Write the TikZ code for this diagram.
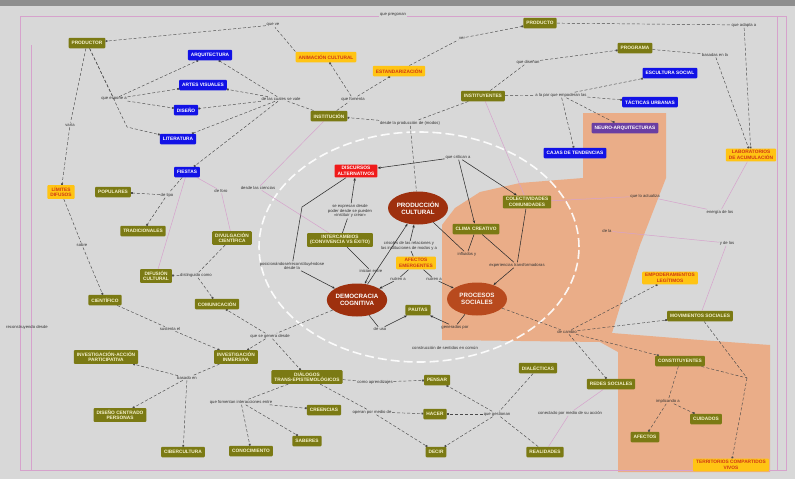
\documentclass[tikz,border=0pt]{standalone}
\usepackage{fontspec}
\setmainfont{Liberation Sans}
\usetikzlibrary{arrows.meta,shapes.geometric}
\definecolor{bgc}{HTML}{D8D8D8}
\definecolor{topbar}{HTML}{8E8E8E}
\definecolor{olv}{HTML}{7B7A14}
\definecolor{olvtx}{HTML}{F6F2CC}
\definecolor{blu}{HTML}{1212E6}
\definecolor{amb}{HTML}{FFC414}
\definecolor{ambtx}{HTML}{D03A14}
\definecolor{redb}{HTML}{F01A1A}
\definecolor{brn}{HTML}{9E300E}
\definecolor{brn2}{HTML}{B84A1E}
\definecolor{pch}{HTML}{EAAD88}
\definecolor{pnk}{HTML}{D6A2CC}
\definecolor{prp}{HTML}{6A3EA2}
\definecolor{cxc}{HTML}{4A4A4A}
\definecolor{slc}{HTML}{2E2E2E}
\pgfdeclarelayer{bg}
\pgfdeclarelayer{edges}
\pgfsetlayers{bg,edges,main}
\begin{document}
\begin{tikzpicture}[x=1pt,y=-1pt,
  cbox/.style={rounded corners=1pt, inner xsep=3pt, inner ysep=2pt, minimum height=10.5pt,
    font=\fontsize{4.8}{5.5}\selectfont\bfseries, align=center},
  ol/.style={cbox, fill=olv, text=olvtx},
  bl/.style={cbox, fill=blu, text=white},
  am/.style={cbox, fill=amb, text=ambtx},
  rd/.style={cbox, fill=redb, text=white},
  pu/.style={cbox, fill=prp, text=white},
  ell/.style={ellipse, inner sep=0pt, minimum width=60pt, minimum height=33pt,
    font=\fontsize{6.2}{7.2}\selectfont\bfseries, text=white, align=center},
  lbl/.style={font=\fontsize{4.2}{4.8}\selectfont, text=black!80, inner sep=0.6pt, align=center},
  cx/.style={draw=cxc, densely dashed, line width=0.45pt},
  sqtip/.style={-{Square[length=1.7pt,width=1.7pt]}},
  sl/.style={draw=slc, line width=0.55pt},
  stl/.style={-{Stealth[length=3.2pt,width=2.4pt]}},
  pk/.style={draw=pnk, line width=0.5pt},
]
\useasboundingbox (0,0) rectangle (795,479);

% ---------- background, coloured zone, frame, central ring
\begin{pgfonlayer}{bg}
\fill[bgc] (0,0) rectangle (795,479);
\fill[topbar] (0,0) rectangle (795,6);
\fill[pch] (583,113) -- (666,113) -- (666,178) -- (640,245) -- (622,300) -- (612,333)
  -- (700,340) -- (770,345) -- (770,472) -- (618,472) -- (618,352) -- (600,342)
  -- (442,340) -- (442,225) -- (455,208) -- (480,192) -- (520,183) -- (583,178) -- cycle;
\draw[pk] (20,16) rectangle (786,470);
\draw[pk] (31,45) -- (31,470);
\draw[pk] (777,16) -- (777,470);
\draw[white, line width=1.6pt, dash pattern=on 9pt off 4pt, opacity=0.9]
  (419,247) ellipse [x radius=160pt, y radius=115pt];
\end{pgfonlayer}

% ---------- concepts
\node[ol] (productor) at (87,43) {PRODUCTOR};
\node[bl] (arq) at (210,55) {ARQUITECTURA};
\node[bl] (artes) at (203,85) {ARTES VISUALES};
\node[bl] (diseno) at (186,110) {DISEÑO};
\node[bl] (literatura) at (178,139) {LITERATURA};
\node[bl] (fiestas) at (187,172) {FIESTAS};
\node[am] (animacion) at (326,57) {ANIMACIÓN CULTURAL};
\node[am] (estandar) at (399,71) {ESTANDARIZACIÓN};
\node[ol] (institucion) at (329,116) {INSTITUCIÓN};
\node[ol] (producto) at (540,23) {PRODUCTO};
\node[ol] (instituyentes) at (483,96) {INSTITUYENTES};
\node[ol] (programa) at (635,48) {PROGRAMA};
\node[bl] (escultura) at (670,73) {ESCULTURA SOCIAL};
\node[bl] (tacticas) at (650,102) {TÁCTICAS URBANAS};
\node[pu] (neuro) at (625,128) {NEURO-ARQUITECTURAS};
\node[bl] (cajas) at (575,153) {CAJAS DE TENDENCIAS};
\node[am] (laboratorio) at (751,155) {LABORATORIOS\\DE ACUMULACIÓN};

\node[am] (limites) at (61,192) {LÍMITES\\DIFUSOS};
\node[ol] (populares) at (113,192) {POPULARES};
\node[ol] (tradicionales) at (143,231) {TRADICIONALES};
\node[ol] (divulgacion) at (232,238) {DIVULGACIÓN\\CIENTÍFICA};
\node[ol] (difusion) at (156,276) {DIFUSIÓN\\CULTURAL};
\node[ol] (cientifico) at (105,300) {CIENTÍFICO};
\node[ol] (comunicacion) at (217,304) {COMUNICACIÓN};

\node[rd] (discursos) at (356,171) {DISCURSOS\\ALTERNATIVOS};
\node[ell, fill=brn] (produccion) at (418,208) {PRODUCCIÓN\\CULTURAL};
\node[ol] (intercambios) at (340,240) {INTERCAMBIOS\\(CONVIVENCIA VS ÉXITO)};
\node[ell, fill=brn] (democracia) at (357,300) {DEMOCRACIA\\COGNITIVA};
\node[ell, fill=brn2, text=white!85!pch] (procesos) at (477,299) {PROCESOS\\SOCIALES};
\node[am] (afectos) at (416,263) {AFECTOS\\EMERGENTES};
\node[ol] (clima) at (476,229) {CLIMA CREATIVO};
\node[ol] (colectividades) at (527,202) {COLECTIVIDADES\\COMUNIDADES};
\node[ol] (pautas) at (418,310) {PAUTAS};
\node[am] (empoderamientos) at (670,278) {EMPODERAMIENTOS\\LEGÍTIMOS};
\node[ol] (movimientos) at (700,316) {MOVIMIENTOS SOCIALES};

\node[ol] (iap) at (106,357) {INVESTIGACIÓN-ACCIÓN\\PARTICIPATIVA};
\node[ol] (inmersiva) at (236,357) {INVESTIGACIÓN\\INMERSIVA};
\node[ol] (dialogos) at (307,377) {DIÁLOGOS\\TRANS-EPISTEMOLÓGICOS};
\node[ol] (disenocp) at (120,415) {DISEÑO CENTRADO\\PERSONAS};
\node[ol] (cibercultura) at (183,452) {CIBERCULTURA};
\node[ol] (conocimiento) at (251,451) {CONOCIMIENTO};
\node[ol] (creencias) at (324,410) {CREENCIAS};
\node[ol] (saberes) at (307,441) {SABERES};
\node[ol] (pensar) at (437,380) {PENSAR};
\node[ol] (hacer) at (435,414) {HACER};
\node[ol] (decir) at (436,452) {DECIR};
\node[ol] (dialecticas) at (538,368) {DIALÉCTICAS};
\node[ol] (realidades) at (545,452) {REALIDADES};
\node[ol] (redes) at (611,384) {REDES SOCIALES};
\node[ol] (constituyentes) at (680,361) {CONSTITUYENTES};
\node[ol] (afectosb) at (645,437) {AFECTOS};
\node[ol] (cuidados) at (706,419) {CUIDADOS};
\node[am] (territorios) at (731,465) {TERRITORIOS COMPARTIDOS\\VIVOS};

% ---------- linking phrases
\node[lbl, fill=bgc] (l_pregonan) at (393,15) {que pregonan};
\node[lbl] (l_ve) at (273,25) {que ve};
\node[lbl] (l_expone) at (114,99) {que expone a};
\node[lbl] (l_vale) at (281,99) {de las cuales se vale};
\node[lbl] (l_fomenta) at (353,99) {que fomenta};
\node[lbl] (l_ver) at (462,38) {ver};
\node[lbl] (l_disenan) at (528,62) {que diseñan};
\node[lbl] (l_adapta) at (744,25) {que adapta a};
\node[lbl] (l_basadas) at (715,55) {basadas en la};
\node[lbl] (l_empoderan) at (561,95) {a la par que empoderan las};
\node[lbl] (l_produccion) at (410,123) {desde la producción de (modos)};
\node[lbl] (l_critican) at (458,157) {que critican a};
\node[lbl] (l_expresan) at (350,211) {se expresan desde\\poder desde se pueden\\«instituir y crear»};
\node[lbl] (l_posicion) at (292,266) {posicionándose/reconstituyéndose\\desde la};
\node[lbl] (l_inician) at (371,271) {inician entre};
\node[lbl] (l_crisoles) at (409,246) {crisoles de las relaciones y\\las instituciones de modos y a};
\node[lbl] (l_nutrena) at (398,279) {nutren a};
\node[lbl] (l_nutrenb) at (434,279) {nutren a};
\node[lbl] (l_influidos) at (467,254) {influidos y};
\node[lbl] (l_experiencias) at (517,265) {experiencias transformadoras};
\node[lbl] (l_deuso) at (380,329) {de uso};
\node[lbl] (l_generados) at (455,327) {generados por};
\node[lbl] (l_construccion) at (445,348) {construcción de sentidos en común};
\node[lbl] (l_cambio) at (567,332) {de cambio};
\node[lbl] (l_varia) at (70,125) {varía};
\node[lbl] (l_sobre) at (82,245) {sobre};
\node[lbl] (l_detipo) at (167,195) {de tipo};
\node[lbl] (l_distinguido) at (196,275) {distinguido como};
\node[lbl] (l_foro) at (221,191) {de foro};
\node[lbl] (l_ciencias) at (258,188) {desde las ciencias};
\node[lbl] (l_sustenta) at (170,329) {sustenta el};
\node[lbl] (l_reconstruyendo) at (27,327) {reconstruyendo desde};
\node[lbl] (l_genera) at (270,336) {que se genera desde};
\node[lbl] (l_basado) at (187,378) {basado en};
\node[lbl] (l_fomentan) at (241,402) {que fomentan interacciones entre};
\node[lbl] (l_aprende) at (375,382) {como aprendizajes};
\node[lbl] (l_operan) at (372,412) {operan por medio de};
\node[lbl] (l_gestionan) at (497,414) {que gestionan};
\node[lbl] (l_conectado) at (570,413) {conectado por medio de su acción};
\node[lbl] (l_implicando) at (668,401) {implicando a};
\node[lbl] (l_actualiza) at (645,196) {que lo actualiza};
\node[lbl] (l_dela) at (607,231) {de la};
\node[lbl] (l_energia) at (720,212) {energía de los};
\node[lbl] (l_ydelos) at (727,243) {y de los};

\coordinate (bendA) at (127,127);
\coordinate (bendD) at (302,207);
\coordinate (hub) at (747,378);

% ---------- connectors
\begin{pgfonlayer}{edges}
% upper band
\draw[cx] (animacion.north west) -- (l_ve);
\draw[cx,sqtip] (l_ve) -- (productor);
\draw[cx] (productor) -- (l_expone);
\draw[cx,sqtip] (l_expone) -- (arq);
\draw[cx,sqtip] (l_expone) -- (artes);
\draw[cx,sqtip] (l_expone) -- (diseno);
\draw[cx,sqtip] (productor) -- (bendA) -- (literatura);
\draw[cx] (institucion) -- (l_vale);
\foreach \t in {arq,artes,diseno,literatura,fiestas}
  \draw[cx,sqtip] (l_vale) -- (\t);
\draw[cx] (institucion) -- (l_fomenta);
\draw[cx,sqtip] (l_fomenta) -- (animacion);
\draw[cx,sqtip] (l_fomenta) -- (estandar);
\draw[cx] (estandar) -- (l_ver);
\draw[cx,sqtip] (l_ver) -- (producto);
\draw[cx] (producto) -- (l_adapta);
\draw[cx,sqtip] (l_adapta) -- (laboratorio);
\draw[cx] (programa) -- (l_basadas);
\draw[cx,sqtip] (l_basadas) -- (laboratorio);
\draw[cx] (instituyentes) -- (l_disenan);
\draw[cx,sqtip] (l_disenan) -- (programa);
\draw[cx] (instituyentes) -- (l_empoderan);
\foreach \t in {escultura,tacticas,cajas,neuro}
  \draw[cx,sqtip] (l_empoderan) -- (\t);
\draw[cx] (instituyentes) -- (l_produccion);
\draw[cx,sqtip] (l_produccion) -- (institucion);
\draw[cx] (l_produccion) -- (produccion);

% centre
\draw[sl,stl] (l_critican) -- (discursos);
\draw[sl,stl] (l_critican) -- (clima);
\draw[sl,stl] (l_critican) -- (colectividades);
\draw[sl] (discursos) -- (bendD) -- (l_posicion);
\draw[sl,stl] (l_posicion) -- (democracia);
\draw[sl] (intercambios) -- (l_expresan);
\draw[sl,stl] (l_expresan) -- (discursos);
\draw[sl] (intercambios) -- (l_inician);
\draw[sl,stl] (l_inician) -- (democracia);
\draw[sl,stl] (democracia) -- (produccion);
\draw[sl] (afectos) -- (l_crisoles);
\draw[sl,stl] (l_crisoles) -- (produccion);
\draw[sl] (afectos) -- (l_nutrena);
\draw[sl,stl] (l_nutrena) -- (democracia);
\draw[sl] (afectos) -- (l_nutrenb);
\draw[sl,stl] (l_nutrenb) -- (procesos);
\draw[sl] (produccion) -- (l_influidos);
\draw[sl] (clima) -- (l_influidos);
\draw[sl] (clima) -- (l_experiencias);
\draw[sl] (colectividades) -- (l_experiencias);
\draw[sl,stl] (l_experiencias) -- (procesos);
\draw[sl] (democracia) -- (l_deuso);
\draw[sl,stl] (l_deuso) -- (pautas);
\draw[sl] (procesos) -- (l_generados);
\draw[sl,stl] (l_generados) -- (pautas);

% right
\draw[cx] (procesos) -- (l_cambio);
\draw[cx,sqtip] (l_cambio) -- (movimientos);
\draw[cx,sqtip] (l_cambio) -- (constituyentes);
\draw[cx,sqtip] (l_cambio) -- (empoderamientos);
\draw[cx,sqtip] (l_cambio) -- (redes);
\draw[cx] (movimientos) -- (hub);
\draw[cx] (constituyentes) -- (hub);
\draw[cx,sqtip] (hub) -- (territorios);
\draw[cx] (constituyentes) -- (l_implicando);
\draw[cx,sqtip] (l_implicando) -- (afectosb);
\draw[cx,sqtip] (l_implicando) -- (cuidados);
\draw[pk] (realidades) -- (l_conectado);
\draw[pk] (l_conectado) -- (redes);

% bottom
\draw[cx] (dialogos) -- (l_aprende);
\draw[cx,sqtip] (l_aprende) -- (pensar);
\draw[cx] (dialogos) -- (l_operan);
\draw[cx,sqtip] (l_operan) -- (hacer);
\draw[cx,sqtip] (l_operan) -- (decir);
\draw[cx] (dialecticas) -- (l_gestionan);
\draw[cx] (realidades) -- (l_gestionan);
\draw[cx,sqtip] (l_gestionan) -- (pensar);
\draw[cx,sqtip] (l_gestionan) -- (hacer);
\draw[cx,sqtip] (l_gestionan) -- (decir);
\draw[cx] (dialogos) -- (l_fomentan);
\foreach \t in {creencias,saberes,conocimiento}
  \draw[cx,sqtip] (l_fomentan) -- (\t);
\draw[cx] (inmersiva) -- (l_basado);
\foreach \t in {iap,disenocp,cibercultura}
  \draw[cx,sqtip] (l_basado) -- (\t);
\draw[cx] (cientifico) -- (l_sustenta);
\draw[cx,sqtip] (l_sustenta) -- (inmersiva);
\draw[cx] (democracia) -- (l_genera);
\draw[cx,sqtip] (l_genera) -- (comunicacion);
\draw[cx,sqtip] (l_genera) -- (inmersiva);
\draw[cx,sqtip] (l_genera) -- (dialogos);

% left
\draw[cx] (productor) -- (l_varia);
\draw[cx,sqtip] (l_varia) -- (limites);
\draw[cx] (limites) -- (l_sobre);
\draw[cx,sqtip] (l_sobre) -- (cientifico);
\draw[cx] (fiestas) -- (l_detipo);
\draw[cx,sqtip] (l_detipo) -- (populares);
\draw[cx,sqtip] (l_detipo) -- (tradicionales);
\draw[cx] (divulgacion) -- (l_distinguido);
\draw[cx,sqtip] (l_distinguido) -- (difusion);
\draw[cx,sqtip] (l_distinguido) -- (comunicacion);

% pale links
\draw[pk] (instituyentes) -- (colectividades);
\draw[pk] (institucion) -- (l_ciencias);
\draw[pk] (l_ciencias) -- (intercambios);
\draw[pk] (fiestas) -- (l_foro);
\draw[pk] (l_foro) -- (divulgacion);
\draw[pk] (fiestas) -- (difusion);
\draw[pk] (colectividades) -- (l_actualiza);
\draw[pk] (l_actualiza) -- (l_energia);
\draw[pk] (l_energia) -- (laboratorio);
\draw[pk] (l_dela) -- (l_ydelos);
\draw[pk] (l_ydelos) -- (movimientos);
\end{pgfonlayer}
\end{tikzpicture}
\end{document}
